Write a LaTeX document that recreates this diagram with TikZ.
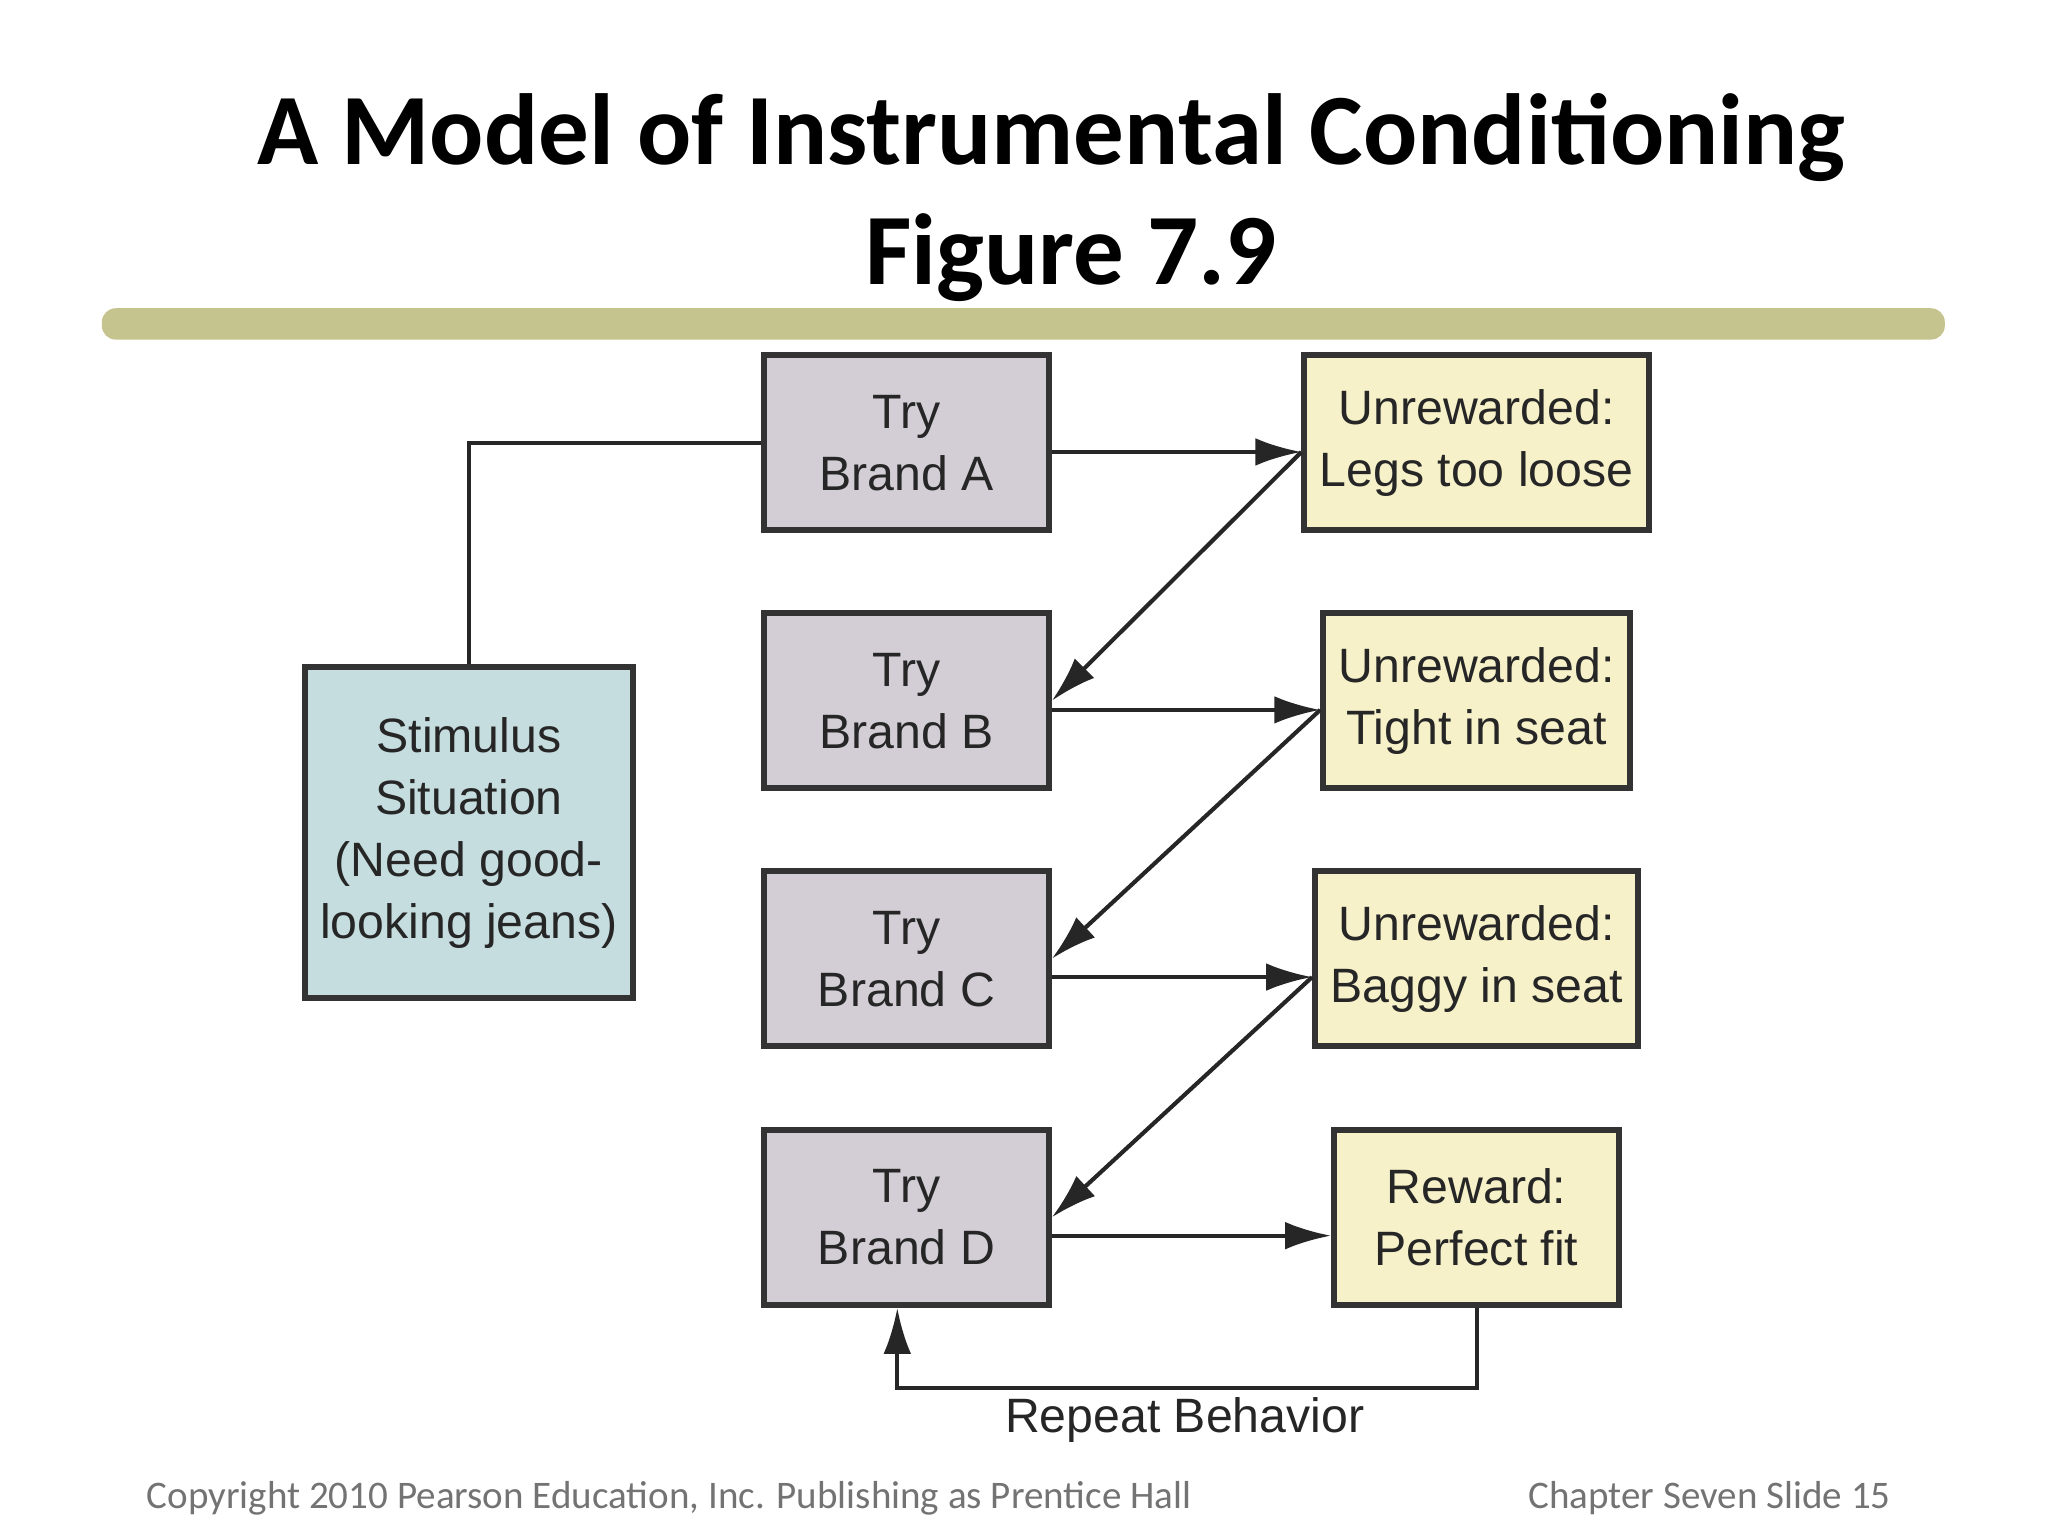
\documentclass[tikz,border=0pt]{standalone}
\usepackage{fontspec}
\setmainfont{Liberation Sans}
\newfontfamily\slidefont{Carlito}
\usetikzlibrary{arrows.meta}
\definecolor{trygrey}{HTML}{D3CED6}
\definecolor{outyellow}{HTML}{F6F1C9}
\definecolor{stimblue}{HTML}{C6DDE0}
\definecolor{barolive}{HTML}{C6C48E}
\tikzstyle{box}=[draw=black!80,line width=1.3pt,minimum width=2.18cm,minimum height=1.34cm,align=center,font=\fontsize{10.5}{13.5}\selectfont,text=black!85]
\tikzstyle{trybox}=[box,fill=trygrey]
\tikzstyle{outbox}=[box,fill=outyellow]
\tikzstyle{link}=[-{Latex[length=10pt,width=6pt]},line width=0.9pt,black!85]
\begin{document}
\begin{tikzpicture}[x=0.01cm,y=-0.01cm]
\useasboundingbox (0,0) rectangle (1568,1176);
% title and bar
\node[font=\slidefont\bfseries\fontsize{22}{26}\selectfont] (title) at (805,105) {A Model of Instrumental Conditioning};
\node[font=\slidefont\bfseries\fontsize{22}{26}\selectfont] (fig) at (820,197) {Figure 7.9};
\fill[barolive,rounded corners=3pt] (78,236) rectangle (1489,260);
% left column
\node[box,fill=stimblue,minimum width=2.2cm,minimum height=2.53cm] (stim) at (359,637.5) {Stimulus\\Situation\\(Need good-\\looking jeans)};
% try column
\node[trybox] (tA) at (694,339) {Try\\Brand A};
\node[trybox] (tB) at (694,536.5) {Try\\Brand B};
\node[trybox] (tC) at (694,734) {Try\\Brand C};
\node[trybox] (tD) at (694,932) {Try\\Brand D};
% outcome column
\node[outbox] (oA) at (1130.5,339) {Unrewarded:\\Legs too loose};
\node[outbox] (oB) at (1130.5,536.5) {Unrewarded:\\Tight in seat};
\node[outbox] (oC) at (1130.5,734) {Unrewarded:\\Baggy in seat};
\node[outbox] (oD) at (1130.5,932) {Reward:\\Perfect fit};
% connectors
\draw[line width=0.9pt,black!85] (stim.north) |- (tA.west);
\draw[link] ([yshift=-2pt]tA.east) -- ([yshift=-2pt]oA.west);
\draw[link] ([yshift=-2pt]tB.east) -- ([yshift=-2pt]oB.west);
\draw[link] ([yshift=-4pt]tC.east) -- ([yshift=-4pt]oC.west);
\draw[link] ([yshift=-4pt]tD.east) -- ([yshift=-4pt]oD.west);
\draw[link] ([yshift=-2pt]oA.west) -- (tB.east);
\draw[link] ([yshift=-2pt]oB.west) -- (tC.east);
\draw[link] ([yshift=-4pt]oC.west) -- (tD.east);
\coordinate (rR) at (1130.5,1063);
\coordinate (rL) at (687,1063);
\draw[link] (oD.south) -- (rR) -- (rL) -- (tD.south -| rL);
\node[font=\fontsize{10.5}{13}\selectfont,text=black!85] (rep) at (907,1087) {Repeat Behavior};
% footer
\node[font=\slidefont\fontsize{8.5}{10}\selectfont,text=black!55,anchor=west] (copy) at (100,1147) {Copyright 2010 Pearson Education, Inc. Publishing as Prentice Hall};
\node[font=\slidefont\fontsize{8.5}{10}\selectfont,text=black!55,anchor=east] (slide) at (1460,1147) {Chapter Seven Slide 15};
\end{tikzpicture}
\end{document}
